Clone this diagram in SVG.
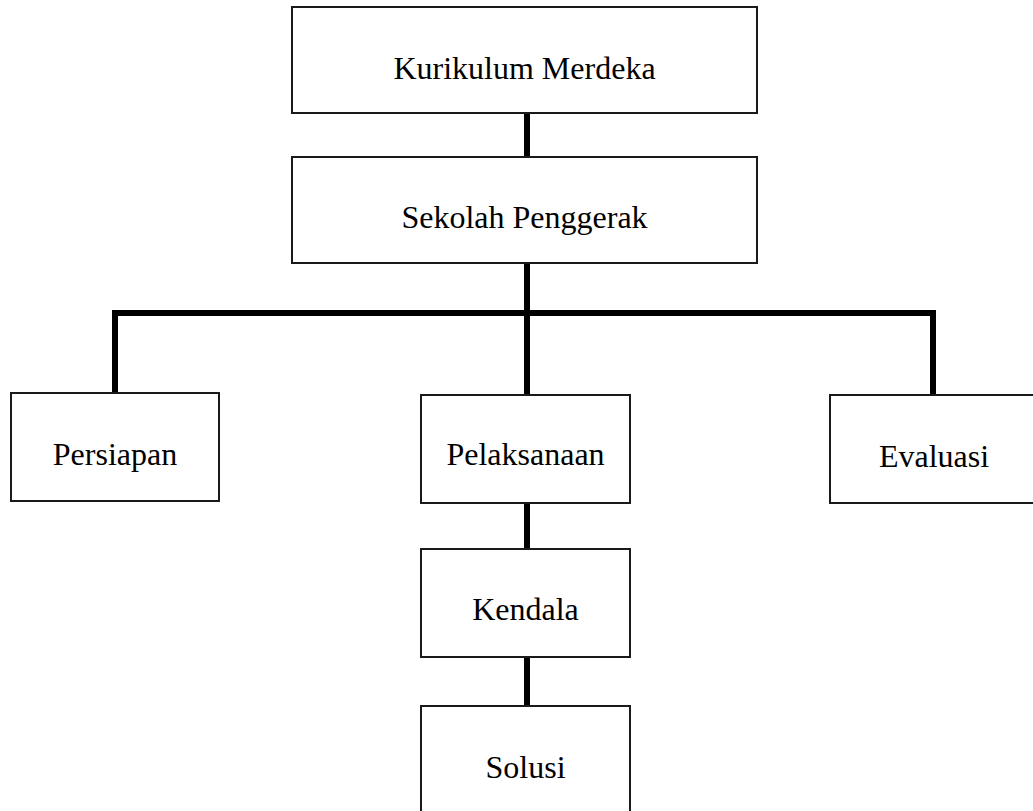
<svg xmlns="http://www.w3.org/2000/svg" width="1033" height="811" viewBox="0 0 1033 811">
<style>
.box{fill:#fff;stroke:#1a1a1a;stroke-width:2}
.lbl{font-family:"Liberation Serif","Times New Roman",serif;font-size:32px;fill:#000;text-anchor:middle}
.conn{fill:none;stroke:#000;stroke-width:6;stroke-linecap:butt;stroke-linejoin:miter}
</style>
<rect width="1033" height="811" fill="#fff"/>
<g id="connectors">
<line class="conn" x1="527" y1="113" x2="527" y2="157"/>
<line class="conn" x1="527" y1="263" x2="527" y2="395"/>
<polyline class="conn" points="115,393 115,313 933,313 933,395"/>
<line class="conn" x1="527" y1="503" x2="527" y2="549"/>
<line class="conn" x1="527" y1="657" x2="527" y2="706"/>
</g>
<g id="kurikulum-merdeka">
<rect class="box" x="292" y="7" width="465" height="106"/>
<text class="lbl" x="524.5" y="79">Kurikulum Merdeka</text>
</g>
<g id="sekolah-penggerak">
<rect class="box" x="292" y="157" width="465" height="106"/>
<text class="lbl" x="524.5" y="228">Sekolah Penggerak</text>
</g>
<g id="persiapan">
<rect class="box" x="11" y="393" width="208" height="108"/>
<text class="lbl" x="115" y="465">Persiapan</text>
</g>
<g id="pelaksanaan">
<rect class="box" x="421" y="395" width="209" height="108"/>
<text class="lbl" x="525.5" y="465">Pelaksanaan</text>
</g>
<g id="evaluasi">
<rect class="box" x="830" y="395" width="210" height="108"/>
<text class="lbl" x="934" y="467">Evaluasi</text>
</g>
<g id="kendala">
<rect class="box" x="421" y="549" width="209" height="108"/>
<text class="lbl" x="525.5" y="620">Kendala</text>
</g>
<g id="solusi">
<rect class="box" x="421" y="706" width="209" height="110"/>
<text class="lbl" x="525.5" y="778">Solusi</text>
</g>
</svg>
